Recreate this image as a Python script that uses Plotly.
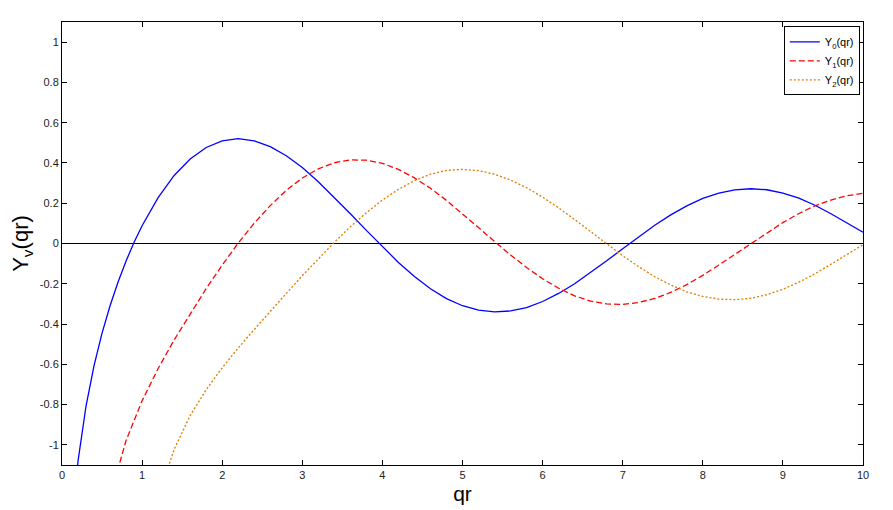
import plotly.graph_objects as go

x0 = [0.1, 0.2, 0.3, 0.4, 0.5, 0.6, 0.7, 0.8, 0.9, 1.0, 1.2, 1.4, 1.6, 1.8, 2.0, 2.2, 2.4, 2.6, 2.8, 3.0,
      3.2, 3.4, 3.6, 3.8, 4.0, 4.2, 4.4, 4.6, 4.8, 5.0, 5.2, 5.4, 5.6, 5.8, 6.0, 6.2, 6.4, 6.6, 6.8, 7.0,
      7.2, 7.4, 7.6, 7.8, 8.0, 8.2, 8.4, 8.6, 8.8, 9.0, 9.2, 9.4, 9.6, 9.8, 10.0]
y0 = [-1.534, -1.081, -0.807, -0.606, -0.445, -0.309, -0.191, -0.087, 0.006, 0.088, 0.228, 0.338, 0.420, 0.477,
      0.510, 0.521, 0.510, 0.481, 0.436, 0.377, 0.307, 0.230, 0.148, 0.065, -0.017, -0.094, -0.164, -0.225,
      -0.274, -0.309, -0.331, -0.340, -0.335, -0.318, -0.288, -0.248, -0.200, -0.145, -0.086, -0.026, 0.034,
      0.091, 0.142, 0.187, 0.224, 0.250, 0.266, 0.272, 0.267, 0.250, 0.225, 0.190, 0.148, 0.101, 0.056]

x1 = [0.6, 0.8, 1.0, 1.2, 1.4, 1.6, 1.8, 2.0, 2.2, 2.4, 2.6, 2.8, 3.0, 3.2, 3.4, 3.6, 3.8, 4.0, 4.2, 4.4,
      4.6, 4.8, 5.0, 5.2, 5.4, 5.6, 5.8, 6.0, 6.2, 6.4, 6.6, 6.8, 7.0, 7.2, 7.4, 7.6, 7.8, 8.0, 8.2, 8.4,
      8.6, 8.8, 9.0, 9.2, 9.4, 9.6, 9.8, 10.0]
y1 = [-1.260, -0.978, -0.781, -0.621, -0.479, -0.348, -0.224, -0.107, 0.002, 0.101, 0.188, 0.264, 0.325,
      0.371, 0.401, 0.415, 0.414, 0.398, 0.368, 0.326, 0.274, 0.214, 0.148, 0.079, 0.010, -0.057, -0.119,
      -0.175, -0.222, -0.260, -0.286, -0.300, -0.303, -0.293, -0.273, -0.243, -0.204, -0.158, -0.107, -0.054,
      0.001, 0.054, 0.104, 0.149, 0.187, 0.216, 0.237, 0.249]

x2 = [1.2, 1.4, 1.6, 1.8, 2.0, 2.2, 2.4, 2.6, 2.8, 3.0, 3.2, 3.4, 3.6, 3.8, 4.0, 4.2, 4.4, 4.6, 4.8, 5.0,
      5.2, 5.4, 5.6, 5.8, 6.0, 6.2, 6.4, 6.6, 6.8, 7.0, 7.2, 7.4, 7.6, 7.8, 8.0, 8.2, 8.4, 8.6, 8.8, 9.0,
      9.2, 9.4, 9.6, 9.8, 10.0]
y2 = [-1.263, -1.022, -0.855, -0.726, -0.617, -0.519, -0.427, -0.336, -0.248, -0.160, -0.075, 0.006, 0.083,
      0.153, 0.216, 0.269, 0.312, 0.344, 0.363, 0.368, 0.362, 0.344, 0.315, 0.277, 0.230, 0.177, 0.119,
      0.059, -0.002, -0.061, -0.115, -0.165, -0.206, -0.240, -0.263, -0.276, -0.279, -0.272, -0.254, -0.227,
      -0.192, -0.150, -0.103, -0.053, -0.006]

x_ticks = [0, 1, 2, 3, 4, 5, 6, 7, 8, 9, 10]
y_ticks = [-1, -0.8, -0.6, -0.4, -0.2, 0, 0.2, 0.4, 0.6, 0.8, 1]
y_tick_labels = ["-1", "-0.8", "-0.6", "-0.4", "-0.2", "0", "0.2", "0.4", "0.6", "0.8", "1"]

font = "Liberation Sans, Arial, sans-serif"

fig = go.Figure()
fig.add_trace(go.Scatter(x=x0, y=y0, mode="lines", name="Y<sub>0</sub>(qr)",
                         line=dict(color="#0000ff", width=1.3, dash="solid")))
fig.add_trace(go.Scatter(x=x1, y=y1, mode="lines", name="Y<sub>1</sub>(qr)",
                         line=dict(color="#ff0000", width=1.3, dash="6px,3px")))
fig.add_trace(go.Scatter(x=x2, y=y2, mode="lines", name="Y<sub>2</sub>(qr)",
                         line=dict(color="#e07b00", width=1.3, dash="2px,2px")))

fig.add_shape(type="line", xref="x", yref="y", x0=0, x1=10, y0=0, y1=0,
              line=dict(color="black", width=1), layer="below")

axis_common = dict(showgrid=False, zeroline=False, showline=True, linecolor="black", linewidth=1,
                   mirror="ticks", ticks="inside", ticklen=5, tickcolor="black", automargin=False,
                   tickfont=dict(family=font, size=11, color="#222"))

# page body has an 8px margin, so the figure is sized 8px smaller and margins shifted
fig.update_layout(
    width=885, height=502,
    paper_bgcolor="white", plot_bgcolor="white",
    margin=dict(l=54, r=30, t=14, b=45),
    font=dict(family=font, color="black"),
    xaxis=dict(range=[0, 10], tickvals=x_ticks, title=dict(text="qr", font=dict(size=21), standoff=6),
               **axis_common),
    yaxis=dict(range=[-1.1, 1.1], tickvals=y_ticks, ticktext=y_tick_labels,
               title=dict(text="Y<sub>v</sub>(qr)", font=dict(size=22), standoff=10), **axis_common),
    legend=dict(x=0.996, y=0.99, xanchor="right", yanchor="top", bgcolor="white",
                bordercolor="black", borderwidth=1, font=dict(size=11, family=font),
                tracegroupgap=0, itemwidth=30),
    showlegend=True,
)

fig.write_html("out.html")
